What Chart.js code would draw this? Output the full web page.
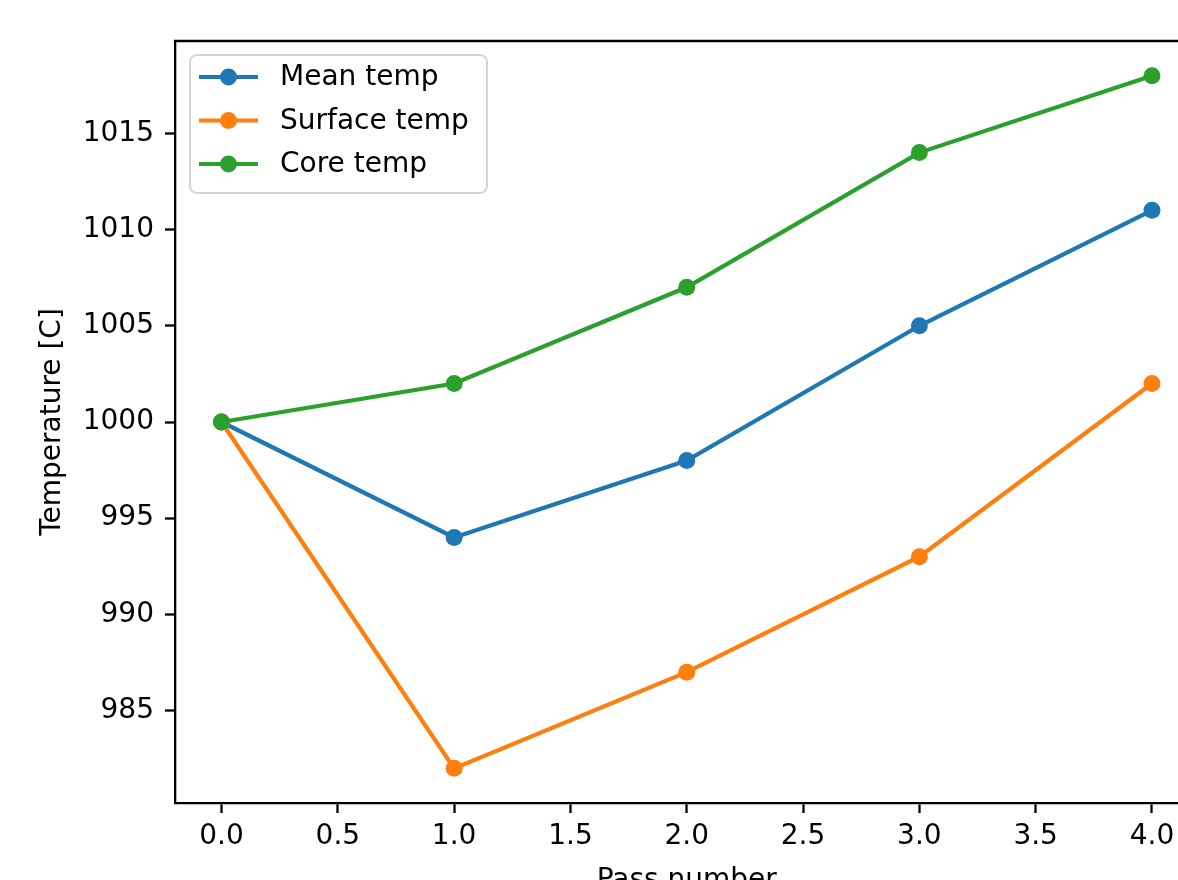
<!DOCTYPE html>
<html>
<head>
<meta charset="utf-8">
<script src="https://cdn.jsdelivr.net/npm/chart.js@4"></script>
<style>
  html, body { margin: 0; padding: 0; overflow: hidden; background: #fff; width: 1178px; height: 880px; }
  #wrap { position: absolute; left: 0; top: 0; width: 1240px; height: 898px; }
</style>
</head>
<body>
<div id="wrap"><canvas id="c"></canvas></div>
<script>
// ---- data ----
const passNumbers = [0, 1, 2, 3, 4];
const meanTemp    = [1000, 994, 998, 1005, 1011];
const surfaceTemp = [1000, 982, 987, 993, 1002];
const coreTemp    = [1000, 1002, 1007, 1014, 1018];
const seriesLabels = ['Mean temp', 'Surface temp', 'Core temp'];
const xTicks = [0, 0.5, 1, 1.5, 2, 2.5, 3, 3.5, 4];
const xTickLabels = ['0.0', '0.5', '1.0', '1.5', '2.0', '2.5', '3.0', '3.5', '4.0'];
const yTicks = [985, 990, 995, 1000, 1005, 1010, 1015];
const yTickLabels = ['985', '990', '995', '1000', '1005', '1010', '1015'];
const xLabel = 'Pass number';
const yLabel = 'Temperature [C]';

// ---- styles ----
const colors = ['#1f77b4', '#ff7f0e', '#2ca02c'];
const FONT = "'DejaVu Sans', sans-serif";
const LW = 4.2;
const PR = 8.5;
const SPINE = 2.3;

function toPoints(ys) { return passNumbers.map((x, i) => ({ x: x, y: ys[i] })); }
const allSeries = [meanTemp, surfaceTemp, coreTemp];

const datasets = allSeries.map((ys, i) => ({
  label: seriesLabels[i],
  data: toPoints(ys),
  borderColor: colors[i],
  backgroundColor: colors[i],
  pointBackgroundColor: colors[i],
  pointBorderWidth: 0,
  pointRadius: PR,
  pointHoverRadius: PR,
  borderWidth: LW,
  tension: 0,
  fill: false,
  order: allSeries.length - 1 - i
}));

const framePlugin = {
  id: 'frame',
  afterDatasetsDraw(chart) {
    const { ctx, chartArea: a } = chart;
    ctx.save();
    ctx.strokeStyle = '#000';
    ctx.lineWidth = SPINE;
    ctx.beginPath();
    ctx.moveTo(a.left - SPINE / 2, a.top);
    ctx.lineTo(a.right, a.top);
    ctx.lineTo(a.right, a.bottom);
    ctx.stroke();
    ctx.restore();
  }
};

const legendPlugin = {
  id: 'mplLegend',
  afterDraw(chart) {
    const { ctx } = chart;
    const box = { x: 190, y: 55, w: 297, h: 138, r: 7 };
    ctx.save();
    ctx.fillStyle = 'rgba(255,255,255,0.8)';
    ctx.strokeStyle = '#d5d5d5';
    ctx.lineWidth = 2;
    ctx.beginPath();
    ctx.roundRect(box.x, box.y, box.w, box.h, box.r);
    ctx.fill();
    ctx.stroke();
    const rowY = [77, 120.5, 164];
    ctx.font = '28px ' + FONT;
    ctx.textBaseline = 'middle';
    ctx.textAlign = 'left';
    chart.data.datasets.forEach((ds, i) => {
      const y = rowY[i];
      ctx.strokeStyle = ds.borderColor;
      ctx.lineWidth = LW;
      ctx.beginPath();
      ctx.moveTo(199, y);
      ctx.lineTo(258, y);
      ctx.stroke();
      ctx.fillStyle = ds.borderColor;
      ctx.beginPath();
      ctx.arc(228.5, y, PR, 0, Math.PI * 2);
      ctx.fill();
      ctx.fillStyle = '#000';
      ctx.fillText(ds.label, 280, y + 1);
    });
    ctx.restore();
  }
};

new Chart(document.getElementById('c'), {
  type: 'line',
  data: { datasets: datasets },
  options: {
    responsive: true,
    maintainAspectRatio: false,
    animation: false,
    events: [],
    layout: { padding: { left: 0, top: 41, right: 41.5, bottom: 0 } },
    plugins: { legend: { display: false }, tooltip: { enabled: false } },
    scales: {
      x: {
        type: 'linear',
        min: -0.2,
        max: 4.2,
        afterBuildTicks(scale) { scale.ticks = xTicks.map(v => ({ value: v })); },
        afterFit(scale) { scale.height = 95; },
        ticks: {
          autoSkip: false,
          maxRotation: 0,
          padding: 7,
          color: '#000',
          font: { family: FONT, size: 28 },
          callback(v) { const k = xTicks.indexOf(v); return k >= 0 ? xTickLabels[k] : ''; }
        },
        grid: { display: true, drawOnChartArea: false, drawTicks: true, tickLength: 10, tickWidth: SPINE, tickColor: '#000' },
        border: { display: true, color: '#000', width: SPINE },
        title: { display: true, text: xLabel, color: '#000', font: { family: FONT, size: 28 }, padding: 0 }
      },
      y: {
        type: 'linear',
        min: 980.2,
        max: 1019.8,
        afterBuildTicks(scale) { scale.ticks = yTicks.map(v => ({ value: v })); },
        afterFit(scale) { scale.width = 175; },
        ticks: {
          autoSkip: false,
          padding: 11,
          color: '#000',
          font: { family: FONT, size: 28 },
          callback(v) { const k = yTicks.indexOf(v); return k >= 0 ? yTickLabels[k] : ''; }
        },
        grid: { display: true, drawOnChartArea: false, drawTicks: true, tickLength: 10, tickWidth: SPINE, tickColor: '#000' },
        border: { display: true, color: '#000', width: SPINE },
        title: { display: true, text: yLabel, color: '#000', font: { family: FONT, size: 28 }, padding: { top: 36, bottom: 0 } }
      }
    }
  },
  plugins: [framePlugin, legendPlugin]
});
</script>
</body>
</html>
